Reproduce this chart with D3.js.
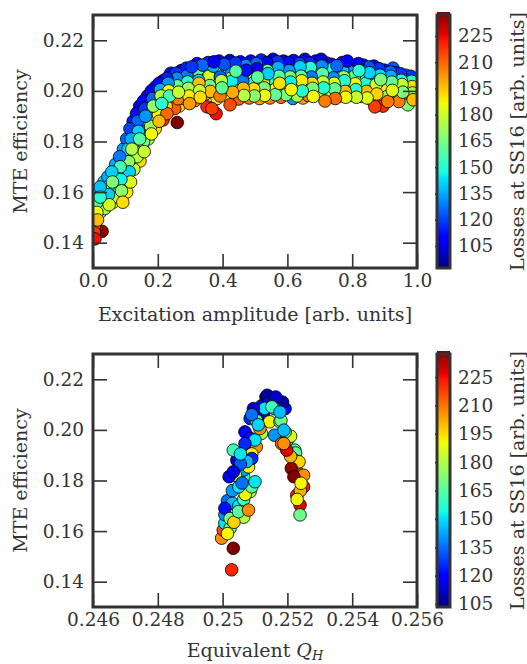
<!DOCTYPE html>
<html>
<head>
<meta charset="utf-8">
<script src="https://cdn.jsdelivr.net/npm/d3@7"></script>
<style>
  html, body { margin: 0; padding: 0; background: #fff; }
  text { font-family: "DejaVu Serif", serif; fill: #333; }
</style>
</head>
<body>
<div id="chart"></div>
<script>
// [excitation amplitude, MTE efficiency, losses at SS16]
const ampRise = [
  [0.004,0.158,145],[0.004,0.155,125],[0.004,0.1535,118],[0.004,0.150,200],[0.004,0.1465,210],[0.004,0.144,215],[0.006,0.1415,222],
  [0.012,0.160,140],[0.012,0.156,160],[0.012,0.152,185],[0.014,0.149,195],
  [0.022,0.162,138],[0.022,0.158,150],[0.024,0.155,172],[0.022,0.152,190],[0.028,0.1445,235],
  [0.034,0.164,142],[0.034,0.160,185],[0.036,0.157,150],[0.036,0.1535,170],
  [0.046,0.166,135],[0.046,0.162,175],[0.048,0.159,140],[0.05,0.155,180],
  [0.058,0.168,140],[0.06,0.164,165],[0.06,0.160,150],[0.062,0.156,182],
  [0.068,0.169,205],[0.07,0.171,135],[0.072,0.166,170],[0.074,0.162,145],[0.076,0.158,178],
  [0.082,0.174,128],[0.084,0.170,155],[0.086,0.165,145],[0.088,0.1605,168],[0.092,0.156,190],
  [0.094,0.177,132],[0.096,0.173,150],[0.098,0.168,185],[0.1,0.164,155],[0.104,0.160,188],
  [0.104,0.181,125],[0.108,0.177,140],[0.11,0.172,168],[0.112,0.168,140],[0.116,0.164,182],
  [0.114,0.185,120],[0.118,0.181,135],[0.12,0.177,175],[0.124,0.173,150],[0.126,0.169,178],
  [0.124,0.188,115],[0.128,0.185,130],[0.13,0.181,150],[0.132,0.1775,165],[0.136,0.174,175],[0.130,0.180,190],
  [0.134,0.191,112],[0.138,0.188,125],[0.14,0.184,140],[0.144,0.181,158],[0.146,0.177,170],[0.145,0.1723,190],
  [0.143,0.1786,212],[0.154,0.177,115],
  [0.144,0.194,110],[0.148,0.191,122],[0.15,0.187,165],[0.152,0.184,130],[0.156,0.180,165],[0.158,0.176,178],
  [0.156,0.196,108],[0.16,0.193,118],[0.162,0.19,132],[0.165,0.187,180],[0.167,0.184,150],[0.17,0.181,175],
  [0.168,0.198,112],[0.172,0.195,128],[0.174,0.192,145],[0.176,0.189,158],[0.178,0.186,172],[0.18,0.183,185],
  [0.18,0.200,110],[0.184,0.197,125],[0.186,0.194,170],[0.188,0.191,140],[0.19,0.188,178],[0.192,0.185,190],
  [0.192,0.2015,115],[0.196,0.199,130],[0.198,0.196,148],[0.2,0.193,165],[0.202,0.1905,185],[0.204,0.188,195],
  [0.204,0.203,112],[0.208,0.2005,135],[0.21,0.198,175],[0.212,0.195,150],[0.214,0.192,188],[0.216,0.1885,218],
  [0.216,0.204,108],[0.22,0.202,128],[0.222,0.199,155],[0.224,0.197,175],[0.226,0.194,192],[0.228,0.191,208],
  [0.228,0.205,115],[0.232,0.203,132],[0.234,0.2,185],[0.236,0.198,155],[0.238,0.195,195],
  [0.24,0.207,112],[0.244,0.204,138],[0.246,0.201,150],[0.248,0.199,185],[0.25,0.196,190],[0.252,0.193,210],
  [0.256,0.207,118],[0.258,0.205,130],[0.26,0.202,160],[0.262,0.1969,205],[0.26,0.1875,237],[0.264,0.1995,178],[0.266,0.194,192],
  [0.272,0.208,110],[0.274,0.205,140],[0.276,0.203,165],[0.278,0.2,180],[0.28,0.197,195],
  [0.288,0.209,115],[0.29,0.206,128],[0.292,0.2035,150],[0.294,0.201,172],[0.296,0.198,188],[0.298,0.195,200]
];

const ampPlateau = [
  [0.305,0.2095,118],[0.307,0.2068,150],[0.309,0.2052,128],[0.311,0.2018,185],[0.313,0.1993,165],[0.315,0.1962,205],
  [0.321,0.2108,112],[0.323,0.2081,160],[0.326,0.2041,140],[0.327,0.2030,195],[0.329,0.2001,178],[0.331,0.1975,190],
  [0.338,0.2102,125],[0.34,0.2090,108],[0.342,0.2048,172],[0.344,0.2035,150],[0.347,0.1988,200],[0.352,0.1937,218],
  [0.355,0.2112,115],[0.356,0.2072,145],[0.358,0.2058,180],[0.36,0.2021,162],[0.362,0.1998,195],[0.367,0.193,215],
  [0.371,0.2098,135],[0.373,0.2115,110],[0.376,0.2062,155],[0.378,0.2025,188],[0.38,0.2008,170],[0.38,0.191,222],[0.383,0.1970,182],
  [0.389,0.2118,108],[0.391,0.2085,150],[0.393,0.2055,125],[0.396,0.2040,175],[0.392,0.198,205],[0.398,0.2012,160],
  [0.405,0.2105,122],[0.407,0.2092,140],[0.41,0.2060,168],[0.411,0.2028,192],[0.414,0.1995,150],[0.417,0.1978,185],
  [0.422,0.2120,105],[0.424,0.2080,132],[0.426,0.2050,180],[0.428,0.2038,145],[0.423,0.1945,212],[0.431,0.1995,198],
  [0.439,0.2110,118],[0.441,0.2078,158],[0.443,0.2061,135],[0.446,0.2022,170],[0.448,0.2003,188],[0.45,0.1968,210],
  [0.455,0.2115,110],[0.457,0.2095,145],[0.46,0.2052,165],[0.462,0.2040,128],[0.464,0.2010,195],[0.466,0.1982,175],
  [0.471,0.2100,130],[0.473,0.2082,112],[0.476,0.2058,150],[0.478,0.2018,185],[0.48,0.2002,160],[0.482,0.1972,205],
  [0.487,0.2118,108],[0.489,0.2090,138],[0.492,0.2065,172],[0.494,0.2030,150],[0.496,0.2008,190],[0.498,0.1980,168],
  [0.504,0.2108,125],[0.506,0.2088,110],[0.508,0.2055,160],[0.51,0.2038,180],[0.512,0.1998,145],[0.514,0.1970,200],
  [0.519,0.2122,115],[0.521,0.2092,148],[0.524,0.2060,130],[0.526,0.2035,192],[0.528,0.2012,165],[0.53,0.1982,185],
  [0.536,0.2112,108],[0.538,0.2080,162],[0.54,0.2068,140],[0.542,0.2025,175],[0.544,0.2000,198],[0.546,0.1972,205],
  [0.556,0.2125,105],[0.555,0.2098,128],[0.557,0.2062,170],[0.559,0.2045,150],[0.561,0.2005,185],[0.563,0.1985,160],
  [0.569,0.2115,118],[0.571,0.2092,135],[0.574,0.2058,158],[0.576,0.2030,190],[0.578,0.2010,172],[0.58,0.1975,208],
  [0.586,0.2090,142],[0.588,0.2118,110],[0.59,0.2062,180],[0.592,0.2040,150],[0.594,0.2002,195],[0.596,0.1985,165],
  [0.603,0.2112,112],[0.605,0.2080,132],[0.608,0.2055,168],[0.61,0.2035,145],[0.612,0.2005,186],[0.617,0.197,132],
  [0.619,0.2120,108],[0.621,0.2085,155],[0.624,0.2070,125],[0.626,0.2032,178],[0.628,0.2008,195],[0.63,0.1980,172],
  [0.637,0.2108,120],[0.639,0.2095,140],[0.642,0.2058,160],[0.644,0.2040,188],[0.646,0.2000,150],[0.648,0.1972,200],
  [0.654,0.2125,104],[0.656,0.2088,135],[0.658,0.2065,172],[0.66,0.2048,148],[0.662,0.2008,182],[0.664,0.1982,205],
  [0.669,0.2110,115],[0.671,0.2092,150],[0.674,0.2055,128],[0.676,0.2030,190],[0.678,0.2010,165],[0.68,0.1978,185],
  [0.687,0.2118,108],[0.689,0.2085,142],[0.692,0.2062,168],[0.694,0.2040,155],[0.696,0.2002,195],[0.698,0.1988,178],
  [0.704,0.2125,104],[0.706,0.2098,130],[0.708,0.2068,158],[0.71,0.2035,178],[0.712,0.2012,150],[0.716,0.196,205],
  [0.721,0.2110,120],[0.723,0.2085,112],[0.726,0.2060,165],[0.728,0.2038,140],[0.73,0.2002,192],[0.732,0.1978,175],
  [0.737,0.2105,110],[0.739,0.2088,148],[0.742,0.2052,130],[0.744,0.2030,182],[0.746,0.2008,160],[0.748,0.1970,208],
  [0.753,0.2100,125],[0.755,0.2078,155],[0.758,0.2060,140],[0.76,0.2025,172],[0.762,0.2002,190],[0.764,0.1980,168],
  [0.769,0.2112,112],[0.771,0.2082,138],[0.774,0.2055,170],[0.776,0.2040,150],[0.778,0.1998,195],[0.78,0.1975,185],
  [0.785,0.2118,108],[0.787,0.2090,145],[0.79,0.2062,128],[0.792,0.2035,180],[0.794,0.2010,165],[0.796,0.1982,200],
  [0.802,0.2100,118],[0.804,0.2085,132],[0.807,0.2058,160],[0.809,0.2028,185],[0.811,0.2005,150],[0.813,0.1975,178],
  [0.819,0.2108,110],[0.821,0.2080,150],[0.824,0.2062,135],[0.826,0.2030,172],[0.828,0.2002,190],[0.83,0.1978,205],
  [0.835,0.2102,115],[0.837,0.2085,128],[0.84,0.2048,165],[0.842,0.2030,148],[0.844,0.1998,195],[0.846,0.1972,182],
  [0.851,0.2095,122],[0.853,0.2072,140],[0.856,0.2055,175],[0.858,0.2020,160],[0.86,0.2000,185],[0.862,0.1962,200],
  [0.87,0.1937,215],[0.867,0.2098,108],[0.869,0.2068,150],[0.872,0.2040,130],[0.874,0.2025,180],[0.876,0.1988,192],
  [0.883,0.2088,118],[0.885,0.2062,142],[0.888,0.2045,165],[0.89,0.2010,178],[0.892,0.1985,200],[0.895,0.194,218],
  [0.899,0.2082,112],[0.901,0.2060,150],[0.904,0.2030,135],[0.906,0.2012,188],[0.908,0.1978,170],[0.91,0.1958,205],
  [0.917,0.2075,125],[0.919,0.2058,135],[0.922,0.2035,160],[0.924,0.2002,182],[0.926,0.209,122],[0.926,0.1972,195],
  [0.933,0.2072,112],[0.935,0.2050,145],[0.938,0.2022,168],[0.94,0.2005,150],[0.942,0.1975,190],[0.944,0.1958,205],
  [0.949,0.2068,118],[0.951,0.2042,150],[0.954,0.2025,178],[0.956,0.1995,165],[0.958,0.1968,205],
  [0.965,0.2062,128],[0.967,0.2040,142],[0.97,0.2012,175],[0.969,0.1977,205],[0.972,0.1945,165],
  [0.981,0.2058,118],[0.983,0.2038,152],[0.985,0.2017,190],[0.986,0.1992,170],[0.988,0.1965,195]
];

// [equivalent Q_H, MTE efficiency, losses at SS16]
const qhScan = [
  [0.25028,0.1447,220],[0.25033,0.1532,237],
  [0.24997,0.1572,205],[0.25002,0.1604,215],[0.25007,0.1631,150],[0.25023,0.1611,165],[0.25015,0.1590,190],
  [0.25007,0.1665,140],[0.25007,0.1690,122],[0.25023,0.1650,170],[0.25035,0.1635,195],[0.25049,0.1677,165],[0.2508,0.1683,205],[0.25065,0.1655,180],
  [0.25015,0.1720,135],[0.2503,0.1710,145],[0.2505,0.1700,150],[0.25065,0.1725,160],[0.25085,0.1756,178],[0.2507,0.1745,190],
  [0.2503,0.1760,140],[0.2505,0.1775,150],[0.2509,0.1775,165],[0.251,0.1795,150],[0.2506,0.1790,135],
  [0.25033,0.1834,115],[0.25065,0.1815,160],[0.25065,0.1841,140],[0.2508,0.1854,190],[0.2504,0.1820,185],[0.2502,0.1815,118],
  [0.25044,0.1880,118],[0.2509,0.1887,125],[0.25075,0.1875,145],[0.25055,0.1865,132],
  [0.25033,0.1920,160],[0.25069,0.1946,125],[0.25055,0.1905,150],[0.25085,0.1920,140],[0.25104,0.1933,205],[0.2509,0.1905,190],
  [0.2508,0.1972,140],[0.25069,0.1992,118],[0.25085,0.1966,120],[0.2512,0.1986,178],[0.2510,0.1960,150],[0.25115,0.2005,205],
  [0.25104,0.2038,165],[0.25095,0.2084,112],[0.2509,0.2060,135],[0.2511,0.2020,148],[0.2512,0.2050,195],[0.25085,0.2045,125],
  [0.25126,0.2065,112],[0.2512,0.2095,120],[0.25134,0.2130,105],[0.25138,0.2137,108],[0.25145,0.2110,118],[0.2513,0.2085,150],
  [0.2516,0.2124,110],[0.25164,0.2130,112],[0.25152,0.2091,160],[0.25177,0.2071,145],[0.25193,0.2084,118],[0.2517,0.2100,125],[0.25185,0.2110,108],
  [0.25145,0.2032,190],[0.25177,0.2032,165],[0.25159,0.2084,160],[0.2518,0.2038,168],[0.2516,0.1979,140],[0.25193,0.1992,165],[0.25189,0.1999,145],
  [0.25182,0.1946,210],[0.25198,0.1920,225],[0.25189,0.1946,205],[0.25202,0.1920,237],[0.2520,0.1960,150],[0.2521,0.1975,185],
  [0.25223,0.1920,165],[0.25225,0.1909,165],[0.25223,0.1880,190],[0.25236,0.1874,195],[0.25212,0.1848,235],[0.2521,0.1895,200],
  [0.2525,0.1821,205],[0.2522,0.1815,237],[0.25242,0.1789,190],[0.2523,0.1835,215],[0.2522,0.1860,180],
  [0.2525,0.1775,222],[0.25229,0.1742,222],[0.2524,0.1760,200],[0.25239,0.1703,225],[0.25239,0.1664,168],[0.2523,0.1725,190]
];

const effTicks = [0.14, 0.16, 0.18, 0.20, 0.22];
const ampTicks = [0.0, 0.2, 0.4, 0.6, 0.8, 1.0];
const ampTickLabels = ['0.0', '0.2', '0.4', '0.6', '0.8', '1.0'];
const qhTicks = [0.246, 0.248, 0.25, 0.252, 0.254, 0.256];
const qhTickLabels = ['0.246', '0.248', '0.25', '0.252', '0.254', '0.256'];
const lossTicks = [105, 120, 135, 150, 165, 180, 195, 210, 225];
const ampLossRange = [92.4, 237];
const qhLossRange = [103.4, 237.2];

const width = 527;
const height = 664;
const ink = '#333';
const tickFont = '18.5px';
const labelFont = '19px';

// matplotlib "jet" colormap breakpoints
const jetStops = [0, 0.11, 0.125, 0.34, 0.35, 0.375, 0.64, 0.65, 0.66, 0.89, 0.91, 1];
const jetColors = ['#000080', '#0000ff', '#0000ff', '#00dbff', '#00e6f7', '#15ffe2',
  '#eeff08', '#f7f600', '#ffec00', '#ff1300', '#e80000', '#800000'];
const jet = d3.scaleLinear().domain(jetStops).range(jetColors).clamp(true);

const svg = d3.select('#chart').append('svg')
  .attr('width', width)
  .attr('height', height);

const defs = svg.append('defs');
const grad = defs.append('linearGradient')
  .attr('id', 'jet')
  .attr('x1', 0).attr('y1', 1).attr('x2', 0).attr('y2', 0);
grad.selectAll('stop').data(jetStops).join('stop')
  .attr('offset', (d) => d)
  .attr('stop-color', (d, i) => jetColors[i]);

// shots were recorded in no particular order: mix the drawing order so the
// colours overlap the way they do in the original scatter
const drawOrder = (data) => data
  .map((d, i) => ({ d, k: (i * 7919) % 113 }))
  .sort((a, b) => a.k - b.k)
  .map((o) => o.d);

function panel(opts) {
  const margin = { left: 93, right: 417 };
  const { top, bottom } = opts;
  const x = d3.scaleLinear().domain(opts.xDomain).range([margin.left, margin.right]);
  const y = d3.scaleLinear().domain([0.13, 0.23]).range([bottom, top]);
  const color = d3.scaleLinear().domain(opts.lossRange).range([0, 1]);

  const g = svg.append('g');

  defs.append('clipPath').attr('id', `clip-${opts.id}`)
    .append('rect')
    .attr('x', margin.left).attr('y', top)
    .attr('width', margin.right - margin.left).attr('height', bottom - top);

  g.append('g')
    .attr('clip-path', `url(#clip-${opts.id})`)
    .selectAll('circle')
    .data(drawOrder(opts.data))
    .join('circle')
    .attr('cx', (d) => x(d[0]))
    .attr('cy', (d) => y(d[1]))
    .attr('r', 6.3)
    .attr('fill', (d) => jet(color(d[2])))
    .attr('stroke', '#000')
    .attr('stroke-width', 0.8);

  const tickLen = 14;
  const styleAxis = (sel) => {
    sel.select('.domain').remove();
    sel.selectAll('.tick line').attr('stroke', ink).attr('stroke-width', 1.6);
    sel.selectAll('.tick text')
      .style('font-family', '"DejaVu Serif", serif')
      .style('font-size', tickFont)
      .attr('fill', ink);
  };

  g.append('g')
    .attr('transform', `translate(${margin.left},0)`)
    .call(d3.axisLeft(y).tickValues(effTicks).tickSizeInner(-tickLen).tickSizeOuter(0)
      .tickPadding(9).tickFormat(d3.format('.2f')))
    .call(styleAxis);
  g.append('g')
    .attr('transform', `translate(${margin.right},0)`)
    .call(d3.axisRight(y).tickValues(effTicks).tickSizeInner(-tickLen).tickSizeOuter(0).tickFormat(''))
    .call(styleAxis);
  g.append('g')
    .attr('transform', `translate(0,${bottom})`)
    .call(d3.axisBottom(x).tickValues(opts.xTicks).tickSizeInner(-tickLen).tickSizeOuter(0)
      .tickPadding(6).tickFormat((d, i) => opts.xTickLabels[i]))
    .call(styleAxis);
  g.append('g')
    .attr('transform', `translate(0,${top})`)
    .call(d3.axisTop(x).tickValues(opts.xTicks).tickSizeInner(-tickLen).tickSizeOuter(0).tickFormat(''))
    .call(styleAxis);

  g.append('rect')
    .attr('x', margin.left).attr('y', top)
    .attr('width', margin.right - margin.left).attr('height', bottom - top)
    .attr('fill', 'none').attr('stroke', ink).attr('stroke-width', 3);

  g.append('text')
    .attr('transform', `translate(20,${(top + bottom) / 2}) rotate(-90)`)
    .attr('text-anchor', 'middle')
    .attr('dy', '0.35em')
    .style('font-size', labelFont)
    .text('MTE efficiency');

  const xl = g.append('text')
    .attr('x', (margin.left + margin.right) / 2)
    .attr('y', bottom + opts.xLabelOffset)
    .attr('text-anchor', 'middle')
    .style('font-size', labelFont);
  opts.xLabel(xl);

  // colorbar
  const cbX = 437;
  const cbW = 13;
  const cy = d3.scaleLinear().domain(opts.lossRange).range([bottom, top]);
  g.append('rect')
    .attr('x', cbX).attr('y', top - 3)
    .attr('width', cbW).attr('height', bottom - top + 3)
    .attr('fill', 'url(#jet)');
  g.append('rect')
    .attr('x', cbX).attr('y', top)
    .attr('width', cbW).attr('height', bottom - top)
    .attr('fill', 'none').attr('stroke', ink).attr('stroke-width', 3);
  g.append('g')
    .attr('transform', `translate(${cbX},0)`)
    .call(d3.axisLeft(cy).tickValues(lossTicks).tickSizeInner(2).tickSizeOuter(0).tickFormat(''))
    .call(styleAxis);
  g.append('g')
    .selectAll('text')
    .data(lossTicks)
    .join('text')
    .attr('x', cbX + cbW + 8)
    .attr('y', (d) => cy(d))
    .attr('dy', '0.35em')
    .style('font-size', tickFont)
    .text((d) => d);
  g.append('text')
    .attr('transform', `translate(${width - 10},${(top + bottom) / 2}) rotate(-90)`)
    .attr('text-anchor', 'middle')
    .attr('dy', '0.35em')
    .style('font-size', labelFont)
    .text('Losses at SS16 [arb. units]');
}

panel({
  id: 'amp',
  top: 15,
  bottom: 268,
  data: ampRise.concat(ampPlateau),
  xDomain: [0, 1],
  xTicks: ampTicks,
  xTickLabels: ampTickLabels,
  lossRange: ampLossRange,
  xLabelOffset: 53,
  xLabel: (t) => t.text('Excitation amplitude [arb. units]'),
});

panel({
  id: 'qh',
  top: 354,
  bottom: 607,
  data: qhScan,
  xDomain: [0.246, 0.256],
  xTicks: qhTicks,
  xTickLabels: qhTickLabels,
  lossRange: qhLossRange,
  xLabelOffset: 50,
  xLabel: (t) => {
    t.append('tspan').text('Equivalent ');
    t.append('tspan').style('font-style', 'italic').text('Q');
    t.append('tspan').style('font-style', 'italic').style('font-size', '13px')
      .attr('dy', 3).text('H');
  },
});
</script>
</body>
</html>
